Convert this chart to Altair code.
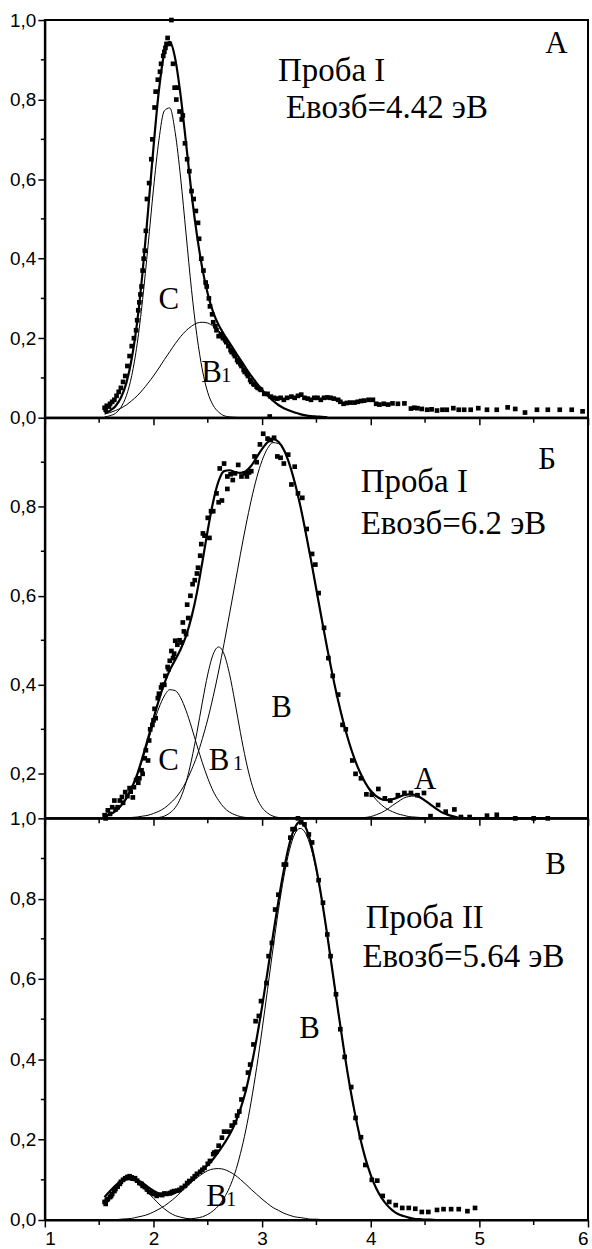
import altair as alt
import pandas as pd

FONT_AX = "Liberation Sans, Arial, sans-serif"
FONT_TXT = "Liberation Serif, 'Times New Roman', serif"

# ---------------- Panel A (Проба I, 4.42 эВ) ----------------
A_PTS_X = [1.55, 1.56, 1.57, 1.59, 1.60, 1.62, 1.64, 1.66, 1.68, 1.70, 1.72, 1.74, 1.76, 1.78, 1.80,
           1.82, 1.84, 1.85, 1.86, 1.87, 1.88, 1.89, 1.90, 1.91, 1.92, 1.93, 1.94, 1.96, 1.98, 1.99,
           2.01, 2.02, 2.04, 2.06, 2.07, 2.09, 2.10, 2.11, 2.12, 2.13, 2.15, 2.165, 2.18, 2.195, 2.21,
           2.22, 2.24, 2.26, 2.27, 2.29, 2.31, 2.33, 2.35, 2.37, 2.39, 2.41, 2.42, 2.44, 2.46, 2.48,
           2.49, 2.51, 2.52, 2.54, 2.55, 2.57, 2.58, 2.60, 2.62, 2.64, 2.66, 2.67, 2.69, 2.71, 2.72,
           2.74, 2.75, 2.77, 2.78, 2.80, 2.81, 2.83, 2.84, 2.86, 2.87, 2.89, 2.90, 2.92, 2.93, 2.95,
           2.96, 2.98, 2.99, 3.02, 3.05, 3.07, 3.08, 3.11, 3.14, 3.17, 3.20, 3.23, 3.27, 3.30, 3.33,
           3.36, 3.39, 3.42, 3.45, 3.48, 3.51, 3.54, 3.57, 3.60, 3.63, 3.66, 3.70, 3.72, 3.75, 3.78,
           3.81, 3.85, 3.88, 3.91, 3.94, 3.98, 4.02, 4.05, 4.08, 4.12, 4.16, 4.20, 4.25, 4.31, 4.37,
           4.40, 4.43, 4.47, 4.52, 4.56, 4.61, 4.66, 4.70, 4.76, 4.81, 4.86, 4.92, 4.99, 5.07, 5.16,
           5.26, 5.33, 5.42, 5.53, 5.63, 5.74, 5.85, 5.95]
A_PTS_Y = [0.025, 0.02, 0.03, 0.028, 0.035, 0.04, 0.045, 0.055, 0.065, 0.075, 0.09, 0.105, 0.13, 0.155, 0.18,
           0.20, 0.22, 0.245, 0.27, 0.29, 0.31, 0.33, 0.37, 0.40, 0.42, 0.47, 0.55, 0.59, 0.65, 0.70,
           0.78, 0.82, 0.85, 0.87, 0.89, 0.91, 0.92, 0.93, 0.94, 0.955, 0.94, 1.0, 0.89, 0.83, 0.80,
           0.83, 0.77, 0.75, 0.76, 0.69, 0.65, 0.62, 0.57, 0.55, 0.52, 0.49, 0.45, 0.40, 0.37, 0.34,
           0.33, 0.30, 0.28, 0.26, 0.24, 0.23, 0.22, 0.205, 0.21, 0.20, 0.195, 0.19, 0.18, 0.17, 0.165,
           0.16, 0.155, 0.145, 0.14, 0.135, 0.13, 0.12, 0.115, 0.11, 0.105, 0.095, 0.09, 0.085, 0.083, 0.078,
           0.075, 0.072, 0.07, 0.06, 0.06, 0.003, 0.053, 0.05, 0.048, 0.05, 0.045, 0.05, 0.053, 0.05, 0.055,
           0.058, 0.05, 0.048, 0.045, 0.05, 0.05, 0.045, 0.05, 0.051, 0.05, 0.048, 0.045, 0.04, 0.035, 0.037,
           0.038, 0.038, 0.04, 0.042, 0.043, 0.045, 0.045, 0.035, 0.033, 0.035, 0.033, 0.036, 0.035, 0.036, 0.023,
           0.025, 0.024, 0.022, 0.02, 0.021, 0.018, 0.02, 0.02, 0.024, 0.02, 0.02, 0.02, 0.024, 0.02, 0.02,
           0.026, 0.022, 0.013, 0.02, 0.02, 0.02, 0.02, 0.016]

A_GRID = [1.55, 1.60, 1.65, 1.70, 1.75, 1.80, 1.85, 1.90, 1.95, 2.00, 2.05, 2.10, 2.15, 2.20,
          2.25, 2.30, 2.35, 2.40, 2.45, 2.50, 2.55, 2.60, 2.65, 2.70, 2.75, 2.80, 2.85, 2.90,
          2.95, 3.00, 3.05, 3.10, 3.15, 3.20, 3.25, 3.30, 3.35, 3.40, 3.45, 3.50, 3.55, 3.60]
A_FIT = [0.011, 0.018, 0.029, 0.050, 0.087, 0.149, 0.241, 0.367, 0.520, 0.680, 0.823, 0.918, 0.945, 0.903,
         0.810, 0.690, 0.565, 0.460, 0.375, 0.311, 0.265, 0.233, 0.209, 0.188, 0.167, 0.146, 0.125, 0.105,
         0.087, 0.070, 0.055, 0.043, 0.032, 0.024, 0.018, 0.013, 0.009, 0.006, 0.004, 0.003, 0.002, 0.001]
A_C = [0.002, 0.005, 0.011, 0.026, 0.055, 0.106, 0.186, 0.297, 0.433, 0.575, 0.698, 0.772, 0.779, 0.717,
       0.603, 0.462, 0.322, 0.206, 0.120, 0.063, 0.031, 0.014, 0.005, 0.002, 0.001, 0.0, 0.0, 0.0,
       0.0, 0.0, 0.0, 0.0, 0.0, 0.0, 0.0, 0.0, 0.0, 0.0, 0.0, 0.0, 0.0, 0.0]
A_B1 = [0.009, 0.013, 0.018, 0.024, 0.032, 0.043, 0.055, 0.070, 0.087, 0.105, 0.125, 0.146, 0.166, 0.186,
        0.204, 0.219, 0.230, 0.238, 0.240, 0.238, 0.230, 0.219, 0.204, 0.186, 0.166, 0.146, 0.125, 0.105,
        0.087, 0.070, 0.055, 0.043, 0.032, 0.024, 0.018, 0.013, 0.009, 0.006, 0.004, 0.003, 0.002, 0.001]

A_TXT = ["Проба I", "Евозб=4.42 эВ", "А", "C", "B", "1"]
A_TX = [3.147, 3.22, 5.606, 2.046, 2.44, 2.624]
A_TY = [0.846, 0.754, 0.917, 0.273, 0.09, 0.09]
A_TS = [33, 33, 31, 31, 31, 20]

# ---------------- Panel Б (Проба I, 6.2 эВ) ----------------
B_PTS_X = [1.55, 1.56, 1.58, 1.60, 1.62, 1.64, 1.65, 1.67, 1.69, 1.71, 1.72, 1.74, 1.76, 1.78, 1.79,
           1.81, 1.82, 1.84, 1.86, 1.87, 1.89, 1.90, 1.92, 1.93, 1.95, 1.96, 1.97, 1.99, 2.00, 2.01,
           2.02, 2.04, 2.05, 2.07, 2.08, 2.10, 2.11, 2.13, 2.14, 2.15, 2.165, 2.18, 2.19, 2.20, 2.22,
           2.24, 2.26, 2.27, 2.28, 2.30, 2.31, 2.32, 2.34, 2.36, 2.38, 2.40, 2.41, 2.43, 2.44, 2.455,
           2.47, 2.50, 2.515, 2.53, 2.55, 2.58, 2.60, 2.61, 2.63, 2.65, 2.68, 2.68, 2.71, 2.73, 2.75,
           2.78, 2.81, 2.84, 2.86, 2.88, 2.90, 2.93, 2.95, 2.98, 3.01, 3.05, 3.08, 3.11, 3.14, 3.17,
           3.20, 3.24, 3.27, 3.30, 3.33, 3.37, 3.41, 3.46, 3.49, 3.52, 3.57, 3.61, 3.65, 3.70, 3.74,
           3.77, 3.83, 3.86, 3.91, 3.96, 4.01, 4.07, 4.13, 4.18, 4.25, 4.31, 4.37, 4.43, 4.49, 4.55,
           4.62, 4.69, 4.77, 4.83, 4.91, 5.07, 5.16, 5.33, 5.50, 5.63]
B_PTS_Y = [0.107, 0.10, 0.118, 0.11, 0.125, 0.14, 0.12, 0.125, 0.14, 0.148, 0.135, 0.159, 0.15, 0.168, 0.16,
           0.147, 0.17, 0.186, 0.18, 0.19, 0.208, 0.20, 0.235, 0.253, 0.23, 0.275, 0.30, 0.31, 0.32, 0.346,
           0.325, 0.37, 0.38, 0.394, 0.40, 0.40, 0.42, 0.44, 0.435, 0.454, 0.476, 0.46, 0.47, 0.499, 0.49,
           0.50, 0.495, 0.54, 0.52, 0.514, 0.58, 0.55, 0.60, 0.626, 0.635, 0.65, 0.663, 0.69, 0.716, 0.74,
           0.735, 0.775, 0.73, 0.79, 0.79, 0.83, 0.81, 0.886, 0.814, 0.897, 0.84, 0.868, 0.873, 0.86, 0.875,
           0.894, 0.868, 0.875, 0.868, 0.877, 0.88, 0.913, 0.90, 0.94, 0.964, 0.953, 0.95, 0.955, 0.913, 0.91,
           0.897, 0.917, 0.85, 0.89, 0.83, 0.82, 0.75, 0.694, 0.67, 0.606, 0.528, 0.46, 0.42, 0.378, 0.31,
           0.30, 0.23, 0.20, 0.19, 0.154, 0.153, 0.166, 0.145, 0.14, 0.152, 0.157, 0.157, 0.152, 0.157, 0.105,
           0.13, 0.115, 0.12, 0.103, 0.103, 0.106, 0.108, 0.10, 0.10, 0.10]

B_GRID = [1.55, 1.60, 1.65, 1.70, 1.75, 1.80, 1.85, 1.90, 1.95, 2.00, 2.05, 2.10, 2.15, 2.20,
          2.25, 2.30, 2.35, 2.40, 2.45, 2.50, 2.55, 2.60, 2.65, 2.70, 2.75, 2.80, 2.85, 2.90,
          2.95, 3.00, 3.05, 3.10, 3.15, 3.20, 3.25, 3.30, 3.35, 3.40, 3.45, 3.50, 3.55, 3.60,
          3.65, 3.70, 3.75, 3.80, 3.85, 3.90, 3.95, 4.00, 4.05, 4.10, 4.15, 4.20, 4.25, 4.30,
          4.35, 4.40, 4.45, 4.50, 4.55, 4.60, 4.65, 4.70, 4.75, 4.80, 4.85, 4.90, 5.00, 5.20,
          5.40, 5.60]
B_FIT = [0.105, 0.109, 0.116, 0.128, 0.145, 0.169, 0.199, 0.238, 0.280, 0.324, 0.366, 0.403, 0.433, 0.456,
         0.480, 0.510, 0.552, 0.607, 0.676, 0.748, 0.812, 0.858, 0.880, 0.882, 0.878, 0.876, 0.880, 0.892,
         0.911, 0.930, 0.945, 0.952, 0.946, 0.928, 0.897, 0.855, 0.804, 0.744, 0.680, 0.613, 0.546, 0.481,
         0.420, 0.364, 0.314, 0.271, 0.234, 0.204, 0.180, 0.162, 0.150, 0.143, 0.141, 0.143, 0.147, 0.152,
         0.154, 0.153, 0.148, 0.140, 0.131, 0.122, 0.114, 0.109, 0.105, 0.102, 0.101, 0.100, 0.100, 0.100,
         0.100, 0.100]
B_C = [0.105, 0.109, 0.116, 0.127, 0.144, 0.167, 0.196, 0.232, 0.272, 0.313, 0.348, 0.375, 0.389, 0.387,
       0.371, 0.342, 0.305, 0.264, 0.225, 0.190, 0.161, 0.140, 0.124, 0.114, 0.108, 0.104, 0.102, 0.101,
       0.100, 0.100, 0.100, 0.100, 0.100, 0.100, 0.100, 0.100, 0.100, 0.100, 0.100, 0.100, 0.100, 0.100,
       0.100, 0.100, 0.100, 0.100, 0.100, 0.100, 0.100, 0.100, 0.100, 0.100, 0.100, 0.100, 0.100, 0.100,
       0.100, 0.100, 0.100, 0.100, 0.100, 0.100, 0.100, 0.100, 0.100, 0.100, 0.100, 0.100, 0.100, 0.100,
       0.100, 0.100]
B_B1 = [0.100, 0.100, 0.100, 0.100, 0.100, 0.100, 0.100, 0.100, 0.100, 0.101, 0.102, 0.105, 0.112, 0.124,
        0.146, 0.181, 0.231, 0.293, 0.361, 0.424, 0.469, 0.485, 0.469, 0.424, 0.361, 0.293, 0.231, 0.181,
        0.146, 0.124, 0.112, 0.105, 0.102, 0.101, 0.100, 0.100, 0.100, 0.100, 0.100, 0.100, 0.100, 0.100,
        0.100, 0.100, 0.100, 0.100, 0.100, 0.100, 0.100, 0.100, 0.100, 0.100, 0.100, 0.100, 0.100, 0.100,
        0.100, 0.100, 0.100, 0.100, 0.100, 0.100, 0.100, 0.100, 0.100, 0.100, 0.100, 0.100, 0.100, 0.100,
        0.100, 0.100]
B_B = [0.100, 0.100, 0.100, 0.101, 0.101, 0.102, 0.103, 0.105, 0.107, 0.111, 0.116, 0.123, 0.133, 0.145,
       0.161, 0.182, 0.209, 0.240, 0.279, 0.323, 0.374, 0.431, 0.493, 0.559, 0.626, 0.693, 0.757, 0.815,
       0.865, 0.904, 0.931, 0.944, 0.942, 0.926, 0.897, 0.855, 0.804, 0.744, 0.680, 0.613, 0.546, 0.481,
       0.420, 0.364, 0.314, 0.270, 0.234, 0.203, 0.178, 0.158, 0.142, 0.130, 0.121, 0.115, 0.110, 0.107,
       0.104, 0.103, 0.102, 0.101, 0.101, 0.100, 0.100, 0.100, 0.100, 0.100, 0.100, 0.100, 0.100, 0.100,
       0.100, 0.100]
B_A = [0.100, 0.100, 0.100, 0.100, 0.100, 0.100, 0.100, 0.100, 0.100, 0.100, 0.100, 0.100, 0.100, 0.100,
       0.100, 0.100, 0.100, 0.100, 0.100, 0.100, 0.100, 0.100, 0.100, 0.100, 0.100, 0.100, 0.100, 0.100,
       0.100, 0.100, 0.100, 0.100, 0.100, 0.100, 0.100, 0.100, 0.100, 0.100, 0.100, 0.100, 0.100, 0.100,
       0.100, 0.100, 0.100, 0.100, 0.100, 0.101, 0.102, 0.104, 0.108, 0.113, 0.120, 0.129, 0.137, 0.145,
       0.149, 0.150, 0.146, 0.139, 0.130, 0.122, 0.114, 0.109, 0.105, 0.102, 0.101, 0.100, 0.100, 0.100,
       0.100, 0.100]

B_TXT = ["Б", "Проба I", "Евозб=6.2 эВ", "B", "C", "B", "1", "A"]
B_TX = [5.541, 3.908, 3.908, 3.083, 2.043, 2.508, 2.731, 4.398]
B_TY = [0.884, 0.834, 0.738, 0.327, 0.208, 0.208, 0.208, 0.167]
B_TS = [31, 33, 33, 31, 31, 31, 20, 31]

# ---------------- Panel В (Проба II, 5.64 эВ) ----------------
V_PTS_X = [1.55, 1.56, 1.57, 1.58, 1.60, 1.61, 1.62, 1.64, 1.65, 1.67, 1.69, 1.70, 1.72, 1.74, 1.76,
           1.78, 1.80, 1.81, 1.83, 1.85, 1.87, 1.89, 1.90, 1.92, 1.94, 1.96, 1.98, 2.00, 2.01, 2.03,
           2.06, 2.08, 2.10, 2.12, 2.15, 2.17, 2.19, 2.22, 2.24, 2.26, 2.29, 2.31, 2.33, 2.36, 2.38,
           2.40, 2.43, 2.45, 2.47, 2.50, 2.52, 2.55, 2.56, 2.58, 2.60, 2.63, 2.65, 2.69, 2.72, 2.75,
           2.77, 2.79, 2.81, 2.84, 2.87, 2.89, 2.92, 2.94, 2.97, 2.99, 3.04, 3.06, 3.09, 3.12, 3.15,
           3.20, 3.22, 3.26, 3.28, 3.30, 3.33, 3.36, 3.39, 3.43, 3.46, 3.52, 3.56, 3.60, 3.63, 3.68,
           3.72, 3.76, 3.82, 3.86, 3.91, 3.95, 4.01, 4.06, 4.11, 4.17, 4.23, 4.29, 4.35, 4.41, 4.47,
           4.53, 4.61, 4.67, 4.74, 4.81, 4.89, 4.96]
V_PTS_Y = [0.045, 0.04, 0.05, 0.052, 0.057, 0.06, 0.065, 0.072, 0.077, 0.083, 0.09, 0.095, 0.10, 0.104, 0.107,
           0.109, 0.106, 0.103, 0.104, 0.098, 0.092, 0.09, 0.085, 0.082, 0.076, 0.07, 0.068, 0.065, 0.065, 0.06,
           0.063, 0.062, 0.066, 0.065, 0.067, 0.07, 0.072, 0.073, 0.075, 0.08, 0.085, 0.092, 0.097, 0.103, 0.109,
           0.115, 0.12, 0.125, 0.13, 0.14, 0.147, 0.164, 0.168, 0.17, 0.185, 0.205, 0.22, 0.22, 0.235, 0.243,
           0.26, 0.27, 0.30, 0.326, 0.367, 0.387, 0.437, 0.495, 0.508, 0.545, 0.59, 0.657, 0.69, 0.773, 0.81,
           0.885, 0.885, 0.952, 0.973, 0.973, 1.0, 0.99, 0.985, 0.96, 0.94, 0.846, 0.79, 0.711, 0.657, 0.562,
           0.475, 0.406, 0.331, 0.254, 0.206, 0.137, 0.10, 0.098, 0.06, 0.045, 0.037, 0.03, 0.03, 0.028, 0.02,
           0.02, 0.025, 0.027, 0.027, 0.027, 0.022, 0.03]

V_GRID = [1.55, 1.60, 1.65, 1.70, 1.75, 1.80, 1.85, 1.90, 1.95, 2.00, 2.05, 2.10, 2.15, 2.20,
          2.25, 2.30, 2.35, 2.40, 2.45, 2.50, 2.55, 2.60, 2.65, 2.70, 2.75, 2.80, 2.85, 2.90,
          2.95, 3.00, 3.05, 3.10, 3.15, 3.20, 3.25, 3.30, 3.35, 3.40, 3.45, 3.50, 3.55, 3.60,
          3.65, 3.70, 3.75, 3.80, 3.85, 3.90, 3.95, 4.00, 4.05, 4.10, 4.15, 4.20, 4.25, 4.30,
          4.35, 4.40, 4.45, 4.50, 4.55, 4.60]
V_FIT = [0.057, 0.072, 0.086, 0.096, 0.102, 0.103, 0.099, 0.092, 0.082, 0.073, 0.066, 0.063, 0.063, 0.068,
         0.076, 0.086, 0.098, 0.111, 0.124, 0.137, 0.152, 0.170, 0.190, 0.212, 0.240, 0.276, 0.322, 0.382,
         0.452, 0.532, 0.618, 0.708, 0.794, 0.871, 0.935, 0.976, 0.992, 0.978, 0.937, 0.874, 0.797, 0.709,
         0.615, 0.520, 0.429, 0.345, 0.271, 0.207, 0.154, 0.112, 0.079, 0.055, 0.037, 0.024, 0.015, 0.010,
         0.006, 0.003, 0.002, 0.001, 0.001, 0.0]
V_D = [0.057, 0.071, 0.084, 0.094, 0.100, 0.099, 0.093, 0.082, 0.068, 0.054, 0.040, 0.028, 0.018, 0.011,
       0.007, 0.004, 0.002, 0.001, 0.0, 0.0, 0.0, 0.0, 0.0, 0.0, 0.0, 0.0, 0.0, 0.0,
       0.0, 0.0, 0.0, 0.0, 0.0, 0.0, 0.0, 0.0, 0.0, 0.0, 0.0, 0.0, 0.0, 0.0,
       0.0, 0.0, 0.0, 0.0, 0.0, 0.0, 0.0, 0.0, 0.0, 0.0, 0.0, 0.0, 0.0, 0.0,
       0.0, 0.0, 0.0, 0.0, 0.0, 0.0]
V_B1 = [0.0, 0.001, 0.001, 0.002, 0.003, 0.004, 0.007, 0.010, 0.014, 0.020, 0.027, 0.035, 0.045, 0.056,
        0.069, 0.081, 0.094, 0.105, 0.115, 0.123, 0.127, 0.128, 0.126, 0.120, 0.112, 0.101, 0.089, 0.076,
        0.064, 0.052, 0.041, 0.031, 0.024, 0.017, 0.012, 0.008, 0.006, 0.004, 0.002, 0.002, 0.001, 0.001,
        0.0, 0.0, 0.0, 0.0, 0.0, 0.0, 0.0, 0.0, 0.0, 0.0, 0.0, 0.0, 0.0, 0.0,
        0.0, 0.0, 0.0, 0.0, 0.0, 0.0]
V_B = [0.0, 0.0, 0.0, 0.0, 0.0, 0.0, 0.0, 0.0, 0.0, 0.0, 0.0, 0.0, 0.0, 0.0,
       0.001, 0.002, 0.003, 0.005, 0.008, 0.014, 0.023, 0.036, 0.055, 0.081, 0.117, 0.165, 0.224, 0.296,
       0.380, 0.474, 0.574, 0.675, 0.771, 0.854, 0.919, 0.961, 0.975, 0.963, 0.926, 0.869, 0.794, 0.708,
       0.615, 0.520, 0.429, 0.345, 0.271, 0.207, 0.154, 0.112, 0.079, 0.055, 0.037, 0.024, 0.015, 0.010,
       0.006, 0.003, 0.002, 0.001, 0.001, 0.0]

V_TXT = ["В", "Проба II", "Евозб=5.64 эВ", "B", "B", "1"]
V_TX = [5.606, 3.954, 3.924, 3.342, 2.486, 2.67]
V_TY = [0.861, 0.728, 0.629, 0.454, 0.036, 0.036]
V_TS = [31, 33, 33, 31, 31, 20]

# ---------------- axes ticks ----------------
X_MAJOR = [1, 2, 3, 4, 5, 6]
X_MINOR = [1.5, 2.5, 3.5, 4.5, 5.5]
Y_MAJOR_FULL = [0.0, 0.2, 0.4, 0.6, 0.8, 1.0]
Y_MINOR_FULL = [0.1, 0.3, 0.5, 0.7, 0.9]
Y_MAJOR_MID = [0.2, 0.4, 0.6, 0.8]
Y_MINOR_MID = [0.3, 0.5, 0.7, 0.9]

W = 545
LABEL_EXPR = "replace(format(datum.value, '.1f'), '.', ',')"


def lines_df(grid, series):
    rows = []
    for name, ys in series.items():
        assert len(ys) == len(grid), (name, len(ys), len(grid))
        for x, y in zip(grid, ys):
            rows.append({"x": x, "y": y, "s": name})
    return pd.DataFrame(rows)


def panel(pts_x, pts_y, grid, fit, comps, txt, tx, ty, ts, ydom, height, ymaj, ymin, show_x_labels):
    assert len(pts_x) == len(pts_y)
    xs = alt.Scale(domain=[1, 6], nice=False, zero=False)
    ys = alt.Scale(domain=ydom, nice=False, zero=False)
    xaxis = alt.Axis(values=X_MAJOR, labels=show_x_labels, format="d", title=None, grid=False,
                     tickSize=7, labelPadding=3, labelFont=FONT_AX, labelFontSize=19)
    yaxis = alt.Axis(values=ymaj, labelExpr=LABEL_EXPR, title=None, grid=False,
                     tickSize=7, labelPadding=2, labelFont=FONT_AX, labelFontSize=19)
    X = alt.X("x:Q", scale=xs, axis=xaxis)
    Y = alt.Y("y:Q", scale=ys, axis=yaxis)

    pts = alt.Chart(pd.DataFrame({"x": pts_x, "y": pts_y})).mark_square(
        size=22, color="black", opacity=1).encode(x=X, y=Y)
    comp = alt.Chart(lines_df(grid, comps)).mark_line(
        color="black", strokeWidth=1, interpolate="monotone").encode(x=X, y=Y, detail="s:N")
    fitl = alt.Chart(pd.DataFrame({"x": grid, "y": fit})).mark_line(
        color="black", strokeWidth=2.2, interpolate="monotone").encode(x=X, y=Y)
    xmin = alt.Chart(pd.DataFrame({"x": X_MINOR})).mark_rule(color="black", strokeWidth=1.5).encode(
        x=X, y=alt.value(height), y2=alt.value(height + 5))
    ymin_l = alt.Chart(pd.DataFrame({"y": ymin})).mark_rule(color="black", strokeWidth=1.5).encode(
        y=Y, x=alt.value(0), x2=alt.value(-4))
    texts = alt.Chart(pd.DataFrame({"t": txt, "x": tx, "y": ty, "fs": ts})).mark_text(
        align="left", baseline="alphabetic", font=FONT_TXT, color="black").encode(
        x=X, y=Y, text="t:N", size=alt.Size("fs:Q", scale=None, legend=None))
    return alt.layer(comp, fitl, pts, xmin, ymin_l, texts).properties(width=W, height=height)


pA = panel(A_PTS_X, A_PTS_Y, A_GRID, A_FIT, {"C": A_C, "B1": A_B1},
           A_TXT, A_TX, A_TY, A_TS, [0.0, 1.0], 399, Y_MAJOR_FULL, Y_MINOR_FULL, False)
pB = panel(B_PTS_X, B_PTS_Y, B_GRID, B_FIT, {"C": B_C, "B1": B_B1, "B": B_B, "A": B_A},
           B_TXT, B_TX, B_TY, B_TS, [0.1, 1.0], 402, Y_MAJOR_MID, Y_MINOR_MID, False)
pV = panel(V_PTS_X, V_PTS_Y, V_GRID, V_FIT, {"D": V_D, "B1": V_B1, "B": V_B},
           V_TXT, V_TX, V_TY, V_TS, [0.0, 1.0], 403, Y_MAJOR_FULL, Y_MINOR_FULL, True)

chart = alt.vconcat(pA, pB, pV, spacing=0, bounds="flush").properties(
    padding={"left": 8, "top": 8, "right": 2, "bottom": 2}
).configure_view(
    stroke="black", strokeWidth=2
).configure_axis(
    domainColor="black", domainWidth=2, tickColor="black", tickWidth=1.5, labelColor="black"
)

chart.save("out.html", embed_options={"renderer": "svg", "actions": False})
